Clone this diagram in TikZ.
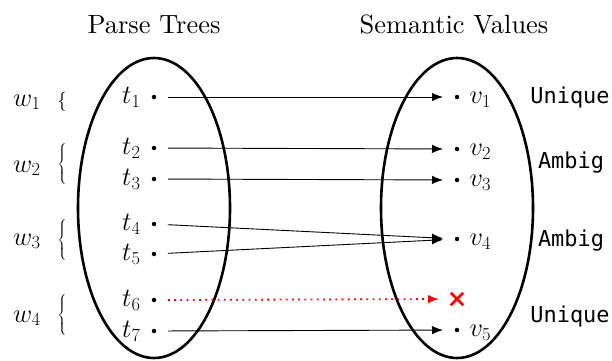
\documentclass[tikz,border=0pt]{standalone}
\usepackage{fix-cm}
\usepackage{fontspec}
\setmainfont{lmroman10-regular.otf}
\newfontfamily\labelmono{DejaVu Sans Mono}
\usetikzlibrary{arrows.meta,shapes.misc}
\newcommand{\tallbrace}[1]{$\left\{\vcenter{\hbox{\rule{0pt}{#1}}}\right.\kern-\nulldelimiterspace$}
\begin{document}
\begin{tikzpicture}[x=1bp,y=-1bp,
  every node/.style={font=\fontsize{26.5}{32}\selectfont},
  setline/.style={line width=2.6bp},
  pt/.style={circle, fill, inner sep=0pt, minimum size=4.5bp},
  tlab/.style={anchor=base east},
  vlab/.style={anchor=base west},
  wlab/.style={anchor=base west, inner sep=0pt},
  bracenode/.style={inner sep=0pt},
  kind/.style={anchor=base, font=\labelmono\fontsize{22}{26}\selectfont},
  map/.style={line width=0.9bp, -{Latex[length=11bp,width=8.5bp]}, shorten <=14bp, shorten >=14bp},
  fail/.style={red, line width=1.8bp, dash pattern=on 1.8bp off 4.4bp, -{Latex[length=11bp,width=8.5bp]}, shorten <=14bp, shorten >=18bp},
]
\useasboundingbox (0,0) rectangle (612,360);
% titles
\node[anchor=base] (ptitle) at (154,33) {Parse Trees};
\node[anchor=base] (stitle) at (454,33) {Semantic Values};
% sets
\draw[setline] (154,208) ellipse [x radius=76, y radius=150];
\draw[setline] (457,208) ellipse [x radius=76, y radius=150];
% parse tree points
\node[pt] (t1) at (154,97) {};
\node[pt] (t2) at (154,148) {};
\node[pt] (t3) at (154,179) {};
\node[pt] (t4) at (154,224) {};
\node[pt] (t5) at (154,254) {};
\node[pt] (t6) at (154,300) {};
\node[pt] (t7) at (154,331) {};
\node[tlab] (lt1) at (144,103.5) {$t_1$};
\node[tlab] (lt2) at (144,154.5) {$t_2$};
\node[tlab] (lt3) at (144,185.5) {$t_3$};
\node[tlab] (lt4) at (144,230.5) {$t_4$};
\node[tlab] (lt5) at (144,260.5) {$t_5$};
\node[tlab] (lt6) at (144,306.5) {$t_6$};
\node[tlab] (lt7) at (144,337.5) {$t_7$};
% semantic value points
\node[pt] (v1) at (457,97) {};
\node[pt] (v2) at (457,149) {};
\node[pt] (v3) at (457,180) {};
\node[pt] (v4) at (457,239) {};
\node[pt] (v5) at (457,330) {};
\node[vlab] (lv1) at (466,103.5) {$v_1$};
\node[vlab] (lv2) at (466,155.5) {$v_2$};
\node[vlab] (lv3) at (466,186.5) {$v_3$};
\node[vlab] (lv4) at (466,245.5) {$v_4$};
\node[vlab] (lv5) at (466,336.5) {$v_5$};
\node[cross out, draw=red, line width=2.5bp, minimum size=10bp, inner sep=0pt] (fx) at (457,299) {};
% words and braces
\node[wlab] (w1) at (13,106) {$w_1$};
\node[wlab] (w2) at (13,172) {$w_2$};
\node[wlab] (w3) at (13,245) {$w_3$};
\node[wlab] (w4) at (13,322) {$w_4$};
\node[bracenode, font=\fontsize{19}{23}\selectfont] (b1) at (62,102) {$\{$};
\node[bracenode] (b2) at (62,164) {\tallbrace{40bp}};
\node[bracenode] (b3) at (62,240) {\tallbrace{40bp}};
\node[bracenode] (b4) at (62,315) {\tallbrace{40bp}};
% kinds
\node[kind] (k1) at (570,103) {Unique};
\node[kind] (k2) at (571,168) {Ambig};
\node[kind] (k3) at (571,246) {Ambig};
\node[kind] (k4) at (570,322) {Unique};
% mappings
\draw[map] (t1.center) -- (v1.center);
\draw[map] (t2.center) -- (v2.center);
\draw[map] (t3.center) -- (v3.center);
\draw[map] (t4.center) -- (v4.center);
\draw[map] (t5.center) -- (v4.center);
\draw[map] (t7.center) -- (v5.center);
\draw[fail] (t6.center) -- (fx.center);
\end{tikzpicture}
\end{document}
